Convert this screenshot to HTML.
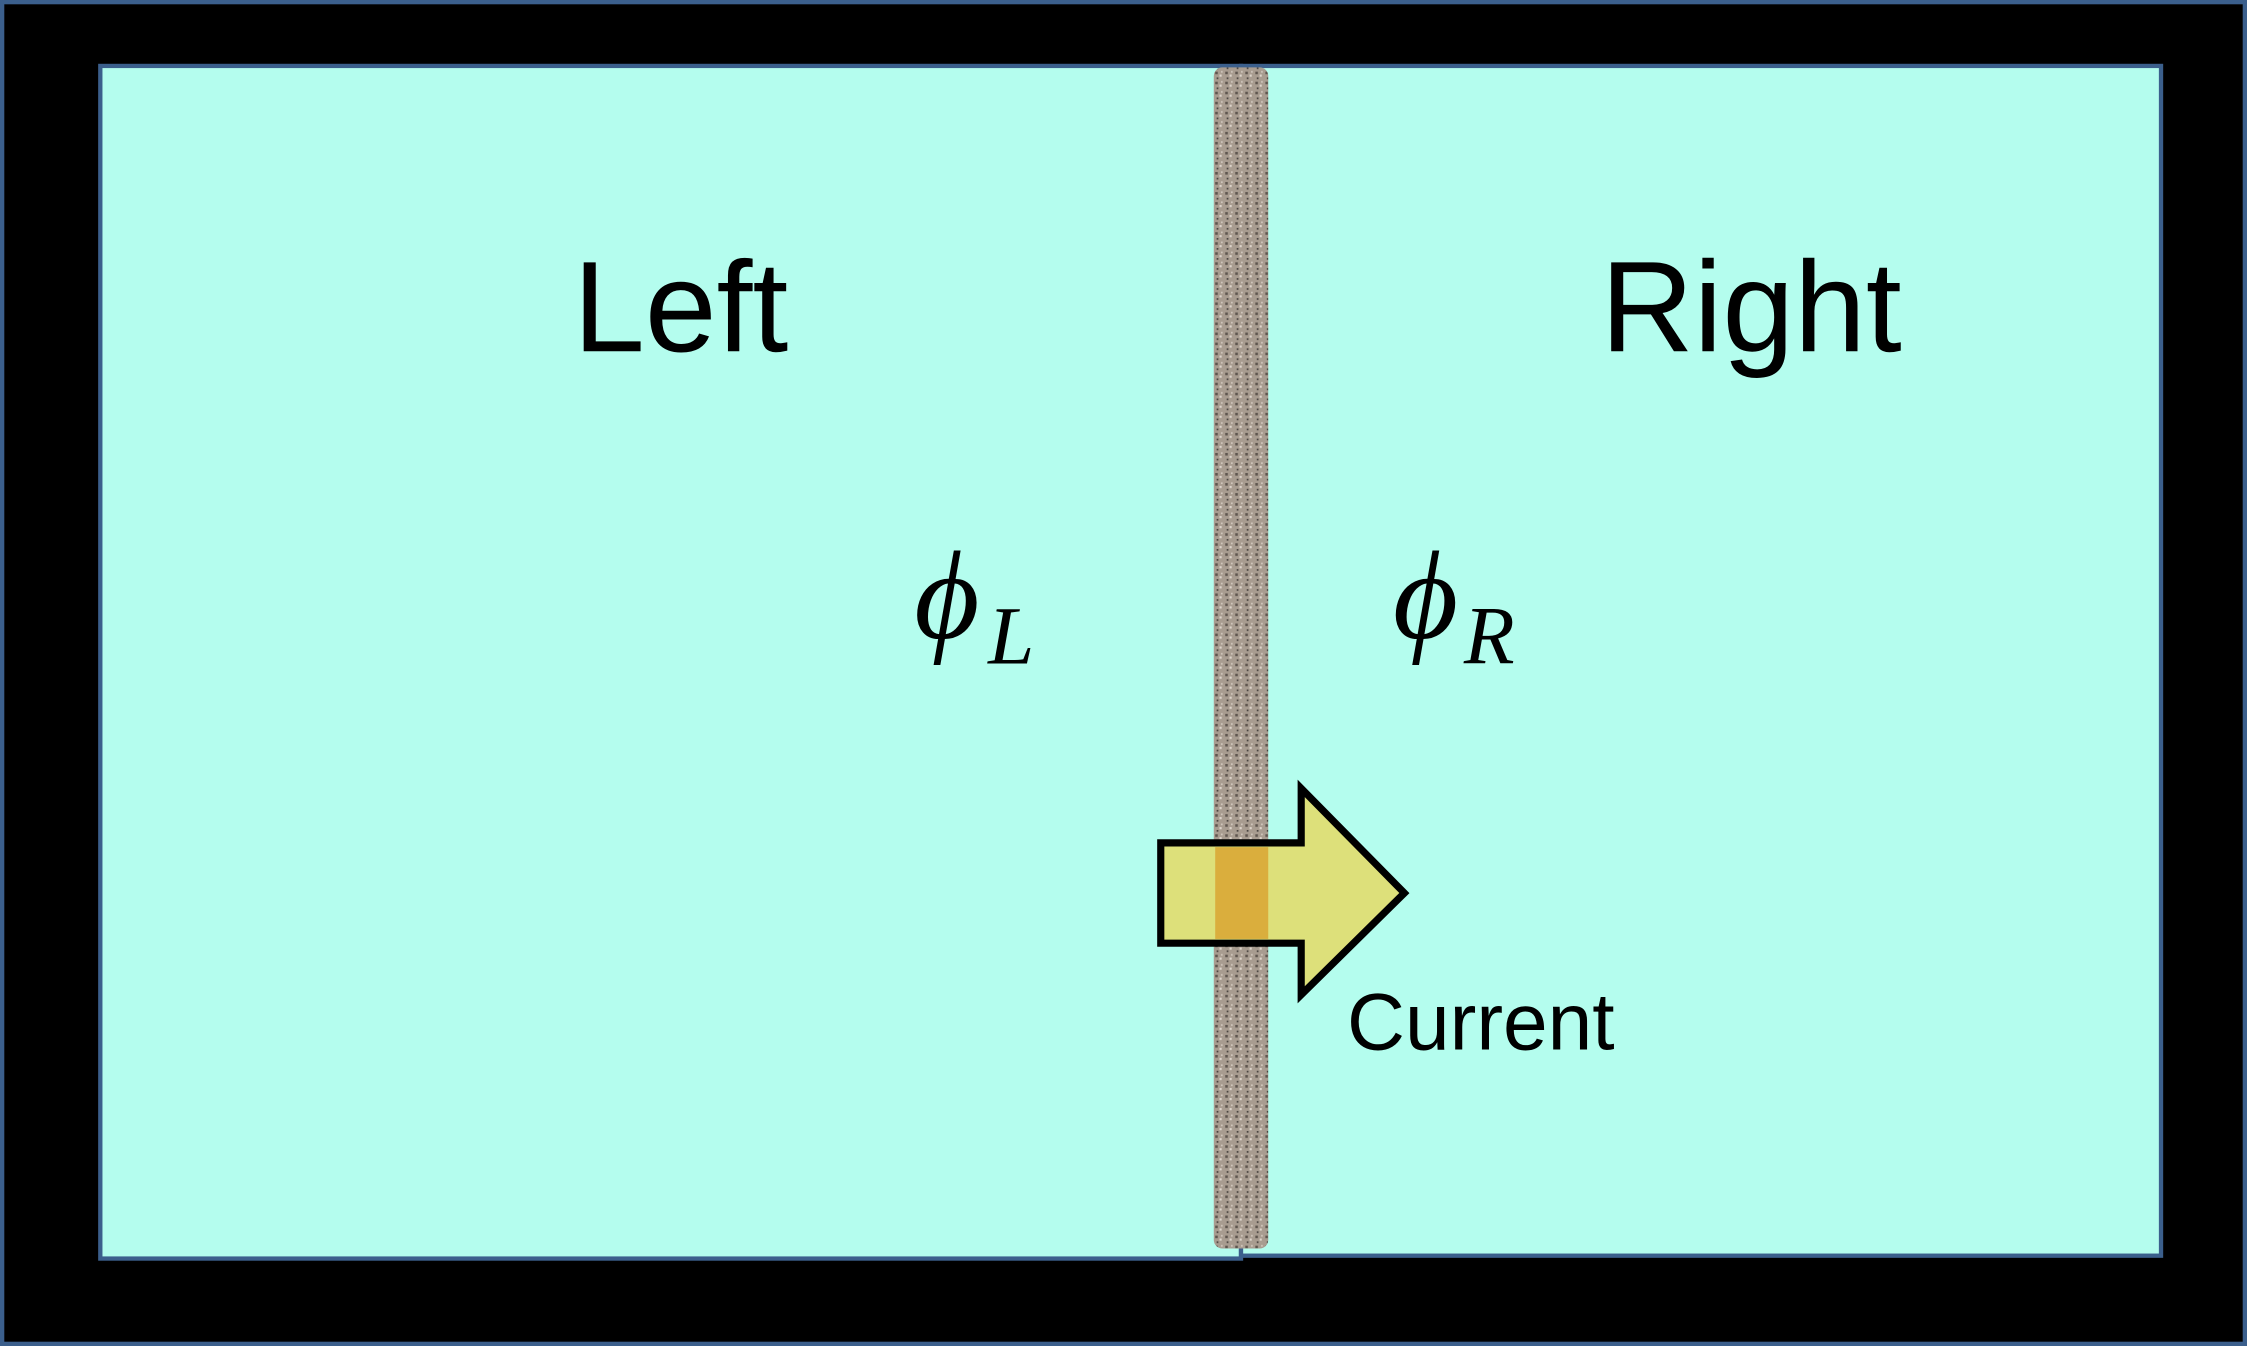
<!DOCTYPE html>
<html>
<head>
<meta charset="utf-8">
<style>
html,body{margin:0;padding:0;background:#000;}
svg{display:block;}
</style>
</head>
<body>
<svg width="2247" height="1346" viewBox="0 0 1568 939" preserveAspectRatio="none" xmlns="http://www.w3.org/2000/svg">
  <defs>
    <pattern id="speck" width="7" height="7" patternUnits="userSpaceOnUse">
      <rect width="7" height="7" fill="#a89c90"/>
      <rect x="1" y="1" width="1.8" height="1.8" fill="#5e554e"/>
      <rect x="4" y="3" width="1.5" height="1.5" fill="#ddd5cc"/>
      <rect x="2" y="5" width="1.2" height="1.2" fill="#4a4440"/>
      <rect x="5" y="0.5" width="1.2" height="1.2" fill="#cfc5bb"/>
    </pattern>
  </defs>
  <rect x="1.5" y="1.5" width="1565" height="936" fill="#000" stroke="#3b5f8c" stroke-width="3"/>
  <rect x="70" y="46" width="796" height="832" fill="#b4fdee" stroke="#3b5f8c" stroke-width="3"/>
  <rect x="866" y="46" width="642" height="830" fill="#b4fdee" stroke="#3b5f8c" stroke-width="3"/>
  <rect x="847" y="47" width="38" height="824" rx="6" fill="url(#speck)"/>
  <text x="475" y="245" text-anchor="middle" font-family="Liberation Sans, sans-serif" font-size="90" fill="#000">Left</text>
  <text x="1222" y="245" text-anchor="middle" font-family="Liberation Sans, sans-serif" font-size="90" fill="#000">Right</text>
  <text x="638" y="445" font-family="Liberation Serif, serif" font-style="italic" font-size="88" fill="#000">ϕ<tspan font-size="58" dx="6" dy="18">L</tspan></text>
  <text x="972" y="445" font-family="Liberation Serif, serif" font-style="italic" font-size="88" fill="#000">ϕ<tspan font-size="58" dx="4" dy="18">R</tspan></text>
  <polygon points="810,588 908,588 908,550 980,623 908,694 908,658 810,658" fill="#dde07a" stroke="#000" stroke-width="5" stroke-linejoin="miter"/>
  <rect x="848" y="591" width="37" height="64" fill="#d9a836" opacity="0.9"/>
  <text x="940" y="732" font-family="Liberation Sans, sans-serif" font-size="56" fill="#000">Current</text>
</svg>
</body>
</html>
